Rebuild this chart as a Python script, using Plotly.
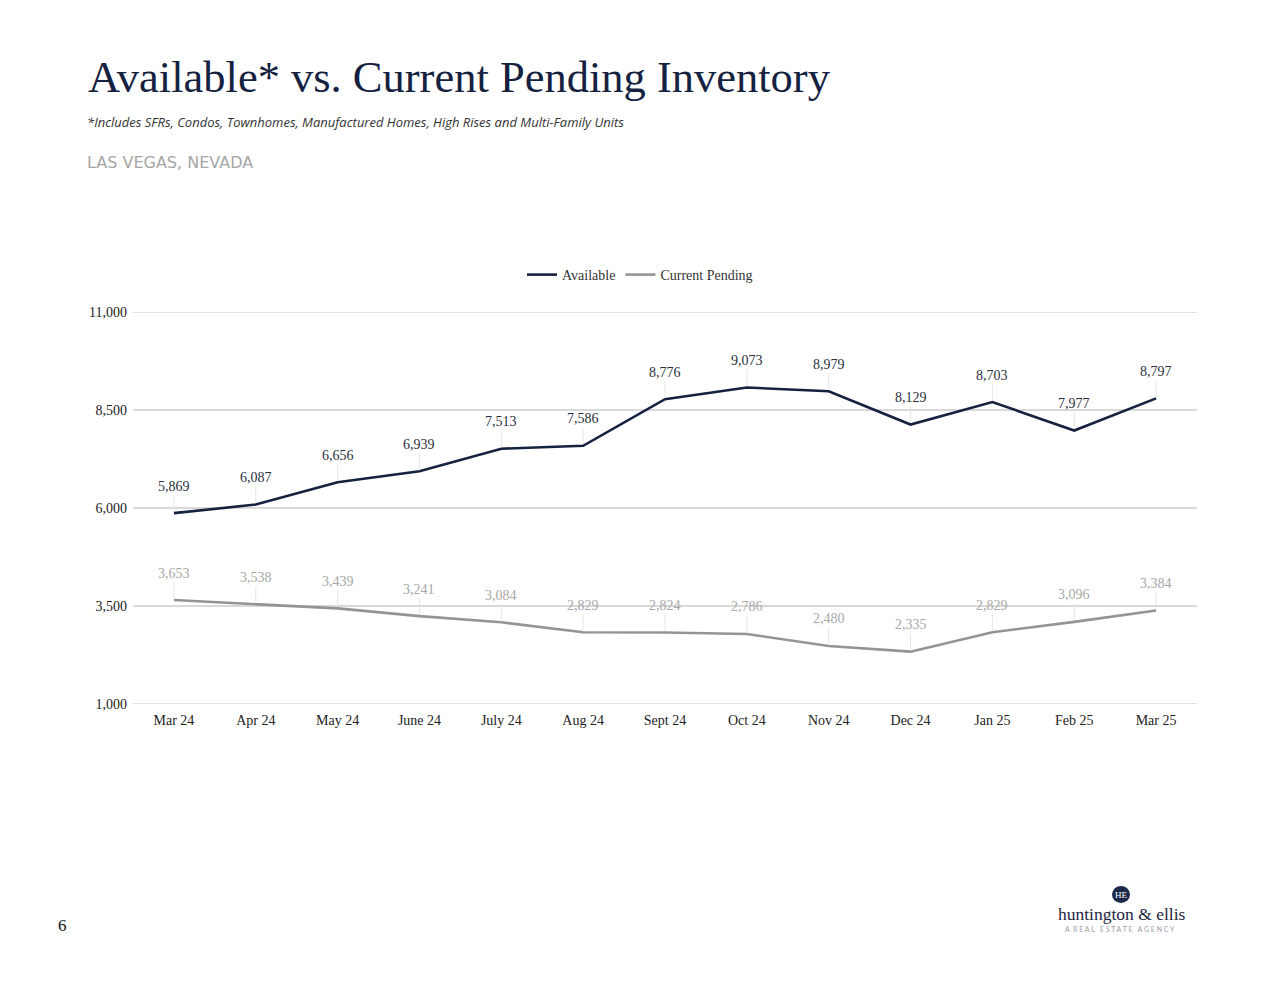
import plotly.graph_objects as go

months = ["Mar 24", "Apr 24", "May 24", "June 24", "July 24", "Aug 24", "Sept 24",
          "Oct 24", "Nov 24", "Dec 24", "Jan 25", "Feb 25", "Mar 25"]
available = [5869, 6087, 6656, 6939, 7513, 7586, 8776, 9073, 8979, 8129, 8703, 7977, 8797]
pending = [3653, 3538, 3439, 3241, 3084, 2829, 2824, 2786, 2480, 2335, 2829, 3096, 3384]
y_ticks = [1000, 3500, 6000, 8500, 11000]

NAVY = "#15223f"
GRAY = "#949497"
LABEL_GRAY = "#a8a8a8"
GRID = "#d9d9d9"
SERIF = "Liberation Serif, Times New Roman, serif"

# The page body has an 8px margin, so the figure is drawn 8px right/down.
OFF = 8
W, H = 1280 - OFF, 989 - OFF
# plot area in page coordinates: x 133..1197, y 312..704
L = 133 - OFF
R = W - (1197 - OFF)
T = 312 - OFF
B = H - (704 - OFF)
pw, ph = W - L - R, H - T - B


def px2paper(px, py):
    fx, fy = px - OFF, py - OFF
    return (fx - L) / pw, (H - B - fy) / ph


fig = go.Figure()
fig.add_trace(go.Scatter(x=months, y=available, mode="lines", name="Available",
                         line=dict(color=NAVY, width=2.6)))
fig.add_trace(go.Scatter(x=months, y=pending, mode="lines", name="Current Pending",
                         line=dict(color=GRAY, width=2.6)))

annotations = []
for m, v in zip(months, available):
    annotations.append(dict(x=m, y=v, xref="x", yref="y", text=f"{v:,}",
                            showarrow=True, arrowhead=0, arrowwidth=1, arrowcolor="#e6e6e6",
                            ax=0, ay=-27, standoff=2,
                            font=dict(family=SERIF, size=14, color="#2a2f3d")))
for m, v in zip(months, pending):
    annotations.append(dict(x=m, y=v, xref="x", yref="y", text=f"{v:,}",
                            showarrow=True, arrowhead=0, arrowwidth=1, arrowcolor="#e6e6e6",
                            ax=0, ay=-27, standoff=2,
                            font=dict(family=SERIF, size=14, color=LABEL_GRAY)))

page_texts = [
    (86, 77, "Available* vs. Current Pending Inventory", "left",
     dict(family=SERIF, size=44.5, color="#15223f")),
    (85, 122, "<i>*Includes SFRs, Condos, Townhomes, Manufactured Homes, High Rises and Multi-Family Units</i>", "left",
     dict(family="Open Sans, Lato, sans-serif", size=13, color="#333333")),
    (85, 162, "LAS VEGAS, NEVADA", "left",
     dict(family="DejaVu Sans, Open Sans, sans-serif", size=16, color="#a6a6a6")),
    (62, 925, "6", "center", dict(family=SERIF, size=17, color="#111111")),
    (1121, 895, "HE", "center", dict(family=SERIF, size=9, color="#ffffff")),
    (1122, 914, "huntington &amp; ellis", "center", dict(family=SERIF, size=17.5, color="#1c2540")),
    (1120, 929, "A  R E A L   E S T A T E   A G E N C Y", "center",
     dict(family="Lato, sans-serif", size=7, color="#9aa0aa")),
]
for px, py, txt, anchor, font in page_texts:
    x, y = px2paper(px, py)
    annotations.append(dict(x=x, y=y, xref="paper", yref="paper", text=txt, showarrow=False,
                            xanchor=anchor, yanchor="middle", font=font))

cx0, cy0 = px2paper(1112, 903)
cx1, cy1 = px2paper(1130, 886)
shapes = [dict(type="circle", xref="paper", yref="paper", x0=cx0, x1=cx1, y0=cy0, y1=cy1,
               fillcolor="#1c2a4a", line=dict(width=0))]
# edge gridlines (Plotly hides grid lines at the plot edges)
for yv in (y_ticks[0], y_ticks[-1]):
    shapes.append(dict(type="line", xref="paper", yref="y", x0=0, x1=1, y0=yv, y1=yv,
                       line=dict(color=GRID, width=1.5), layer="below"))

lx, ly = px2paper(640, 275)

fig.update_layout(
    width=W, height=H,
    margin=dict(l=L, r=R, t=T, b=B),
    paper_bgcolor="white", plot_bgcolor="white",
    showlegend=True,
    legend=dict(orientation="h", x=lx, xanchor="center", y=ly, yanchor="middle",
                font=dict(family=SERIF, size=14, color="#333333"), itemwidth=30),
    xaxis=dict(type="category", range=[-0.5, 12.5], showgrid=False, zeroline=False,
               ticks="", showline=False, ticklabelstandoff=6,
               tickfont=dict(family=SERIF, size=14, color="#222222")),
    yaxis=dict(range=[y_ticks[0], y_ticks[-1]], tickvals=y_ticks, tickformat=",", showgrid=True,
               gridcolor=GRID, gridwidth=1.5, zeroline=False, showline=False, ticks="",
               ticklabelstandoff=5,
               tickfont=dict(family=SERIF, size=14, color="#222222")),
    annotations=annotations,
    shapes=shapes,
)

fig.write_html("out.html")
